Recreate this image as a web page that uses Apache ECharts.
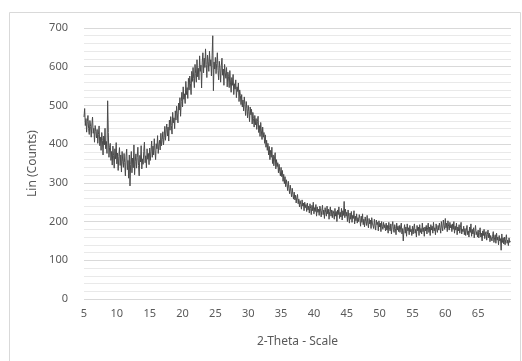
<!DOCTYPE html>
<html>
<head>
<meta charset="utf-8">
<script src="https://cdn.jsdelivr.net/npm/echarts@6/dist/echarts.min.js"></script>
<style>
html,body{margin:0;padding:0;background:#fff;}
#c{width:522px;height:361px;}
</style>
</head>
<body>
<div id="c"></div>
<script>
// XRD scan: 2-Theta from 5.0 in 0.1 degree steps (one row = 2 degrees)
const startAngle = 5.0;
const stepAngle = 0.1;
const intensity = [
  470, 492, 448, 466, 431, 458, 474, 440, 425, 461, 446, 418, 452, 470, 428, 441, 405, 448, 433, 416,
  438, 402, 425, 447, 396, 418, 384, 430, 409, 372, 421, 398, 441, 388, 407, 376, 512, 430, 366, 392,
  402, 358, 381, 346, 395, 370, 338, 388, 362, 404, 349, 377, 332, 368, 391, 345, 372, 328, 381, 356,
  340, 376, 352, 318, 369, 387, 334, 358, 312, 372, 292, 348, 381, 326, 364, 339, 398, 321, 356, 375,
  338, 366, 392, 345, 318, 371, 354, 396, 336, 362, 348, 381, 405, 352, 370, 339, 388, 361, 376, 347,
  390, 358, 382, 408, 366, 395, 372, 414, 384, 360, 401, 388, 422, 376, 398, 410, 385, 428, 396, 412,
  432, 398, 418, 446, 410, 437, 452, 421, 444, 408, 462, 436, 471, 448, 426, 482, 455, 468, 440, 486,
  462, 498, 478, 455, 506, 488, 520, 472, 510, 534, 496, 548, 516, 530, 505, 562, 528, 546, 518, 570,
  540, 576, 556, 528, 588, 562, 598, 570, 546, 606, 582, 560, 618, 574, 596, 566, 628, 588, 604, 545,
  612, 636, 584, 622, 598, 646, 606, 572, 630, 614, 588, 640, 602, 618, 576, 628, 680, 538, 612, 594,
  624, 582, 608, 636, 590, 566, 614, 596, 560, 602, 622, 578, 594, 552, 606, 584, 570, 598, 548, 586,
  574, 546, 590, 558, 534, 572, 552, 580, 528, 556, 542, 566, 520, 548, 536, 558, 510, 540, 526, 502,
  528, 496, 514, 486, 522, 502, 474, 510, 492, 468, 500, 484, 458, 496, 476, 490, 452, 482, 466, 444,
  474, 450, 466, 438, 458, 472, 430, 448, 420, 456, 434, 412, 444, 418, 430, 402, 424, 392, 410, 384,
  402, 372, 394, 360, 384, 366, 392, 350, 372, 344, 364, 378, 336, 360, 342, 352, 326, 348, 330, 318,
  340, 316, 332, 304, 322, 298, 316, 290, 308, 296, 280, 304, 286, 272, 294, 278, 264, 286, 270, 258,
  276, 256, 268, 248, 262, 270, 246, 258, 238, 254, 244, 232, 256, 240, 248, 228, 250, 236, 244, 226,
  248, 230, 240, 222, 246, 234, 218, 242, 228, 250, 220, 236, 226, 244, 214, 238, 224, 232, 216, 240,
  234, 212, 228, 242, 218, 230, 208, 236, 224, 214, 240, 220, 232, 206, 226, 238, 214, 230, 210, 228,
  222, 206, 234, 214, 226, 200, 230, 218, 238, 208, 224, 212, 234, 204, 228, 216, 252, 210, 232, 214,
  224, 200, 230, 212, 196, 222, 206, 226, 198, 216, 208, 228, 194, 214, 202, 220, 196, 210, 200, 218,
  208, 188, 214, 198, 220, 192, 206, 186, 212, 200, 190, 216, 196, 184, 208, 194, 204, 182, 210, 196,
  200, 182, 206, 190, 178, 204, 192, 198, 176, 202, 186, 196, 174, 200, 188, 180, 198, 184, 192, 176,
  196, 178, 190, 170, 198, 184, 176, 194, 168, 188, 200, 180, 172, 192, 182, 166, 196, 178, 188, 174,
  190, 172, 186, 196, 168, 182, 150, 178, 192, 170, 186, 162, 194, 176, 184, 166, 190, 174, 180, 164,
  188, 168, 184, 194, 170, 180, 160, 190, 176, 186, 164, 192, 172, 182, 168, 196, 174, 184, 162, 186,
  176, 190, 168, 184, 196, 172, 186, 164, 192, 178, 188, 170, 198, 176, 184, 166, 194, 180, 172, 190,
  178, 196, 184, 170, 200, 186, 176, 204, 190, 180, 208, 184, 196, 174, 202, 188, 178, 198, 184, 192,
  174, 194, 180, 200, 170, 188, 178, 196, 166, 186, 176, 192, 170, 184, 198, 168, 180, 174, 188, 166,
  182, 164, 178, 190, 166, 176, 160, 186, 172, 194, 162, 180, 168, 184, 158, 176, 190, 166, 174, 160,
  178, 158, 172, 184, 160, 170, 150, 176, 164, 180, 156, 168, 174, 152, 166, 178, 158, 170, 148, 164,
  168, 150, 162, 174, 146, 158, 166, 144, 170, 152, 160, 140, 164, 150, 156, 126, 168, 146, 158, 142,
  160, 140, 154, 166, 144, 152, 138, 158, 146, 150
];
const xTicks = [5, 10, 15, 20, 25, 30, 35, 40, 45, 50, 55, 60, 65];
const yTicks = [0, 100, 200, 300, 400, 500, 600, 700];

const points = intensity.map((v, i) => [+(startAngle + i * stepAngle).toFixed(1), v]);
const font = "'Noto Sans', sans-serif";
const chart = echarts.init(document.getElementById('c'), null, {renderer: 'canvas'});
chart.setOption({
  animation: false,
  backgroundColor: '#fff',
  graphic: [{
    type: 'rect', left: 7, top: 10, shape: {width: 511, height: 370},
    style: {fill: 'none', stroke: '#d9d9d9', lineWidth: 1}, silent: true
  }],
  grid: {left: 84, right: 11, top: 28, bottom: 62},
  xAxis: {
    type: 'value', min: 5, max: 70, interval: 5,
    axisLine: {show: false}, axisTick: {show: false}, splitLine: {show: false},
    axisLabel: {color: '#595959', fontSize: 11, fontFamily: font, margin: 9,
      formatter: v => xTicks.includes(v) ? String(v) : ''},
    name: '2-Theta - Scale', nameLocation: 'middle', nameGap: 37,
    nameTextStyle: {color: '#595959', fontSize: 12, fontFamily: font}
  },
  yAxis: {
    type: 'value', min: 0, max: 700, interval: 100,
    axisLine: {show: false}, axisTick: {show: false},
    axisLabel: {color: '#595959', fontSize: 11, fontFamily: font, margin: 16,
      formatter: v => yTicks.includes(v) ? String(v) : ''},
    splitLine: {show: true, lineStyle: {color: '#d9d9d9', width: 1}},
    minorTick: {show: false, splitNumber: 5},
    minorSplitLine: {show: true, lineStyle: {color: '#e9e9e9', width: 1}},
    name: 'Lin (Counts)', nameLocation: 'middle', nameGap: 45,
    nameTextStyle: {color: '#595959', fontSize: 12, fontFamily: font}
  },
  series: [{
    type: 'line', data: points, showSymbol: false, symbol: 'none',
    lineStyle: {color: '#4a4a4a', width: 1}, silent: true
  }]
});
</script>
</body>
</html>
